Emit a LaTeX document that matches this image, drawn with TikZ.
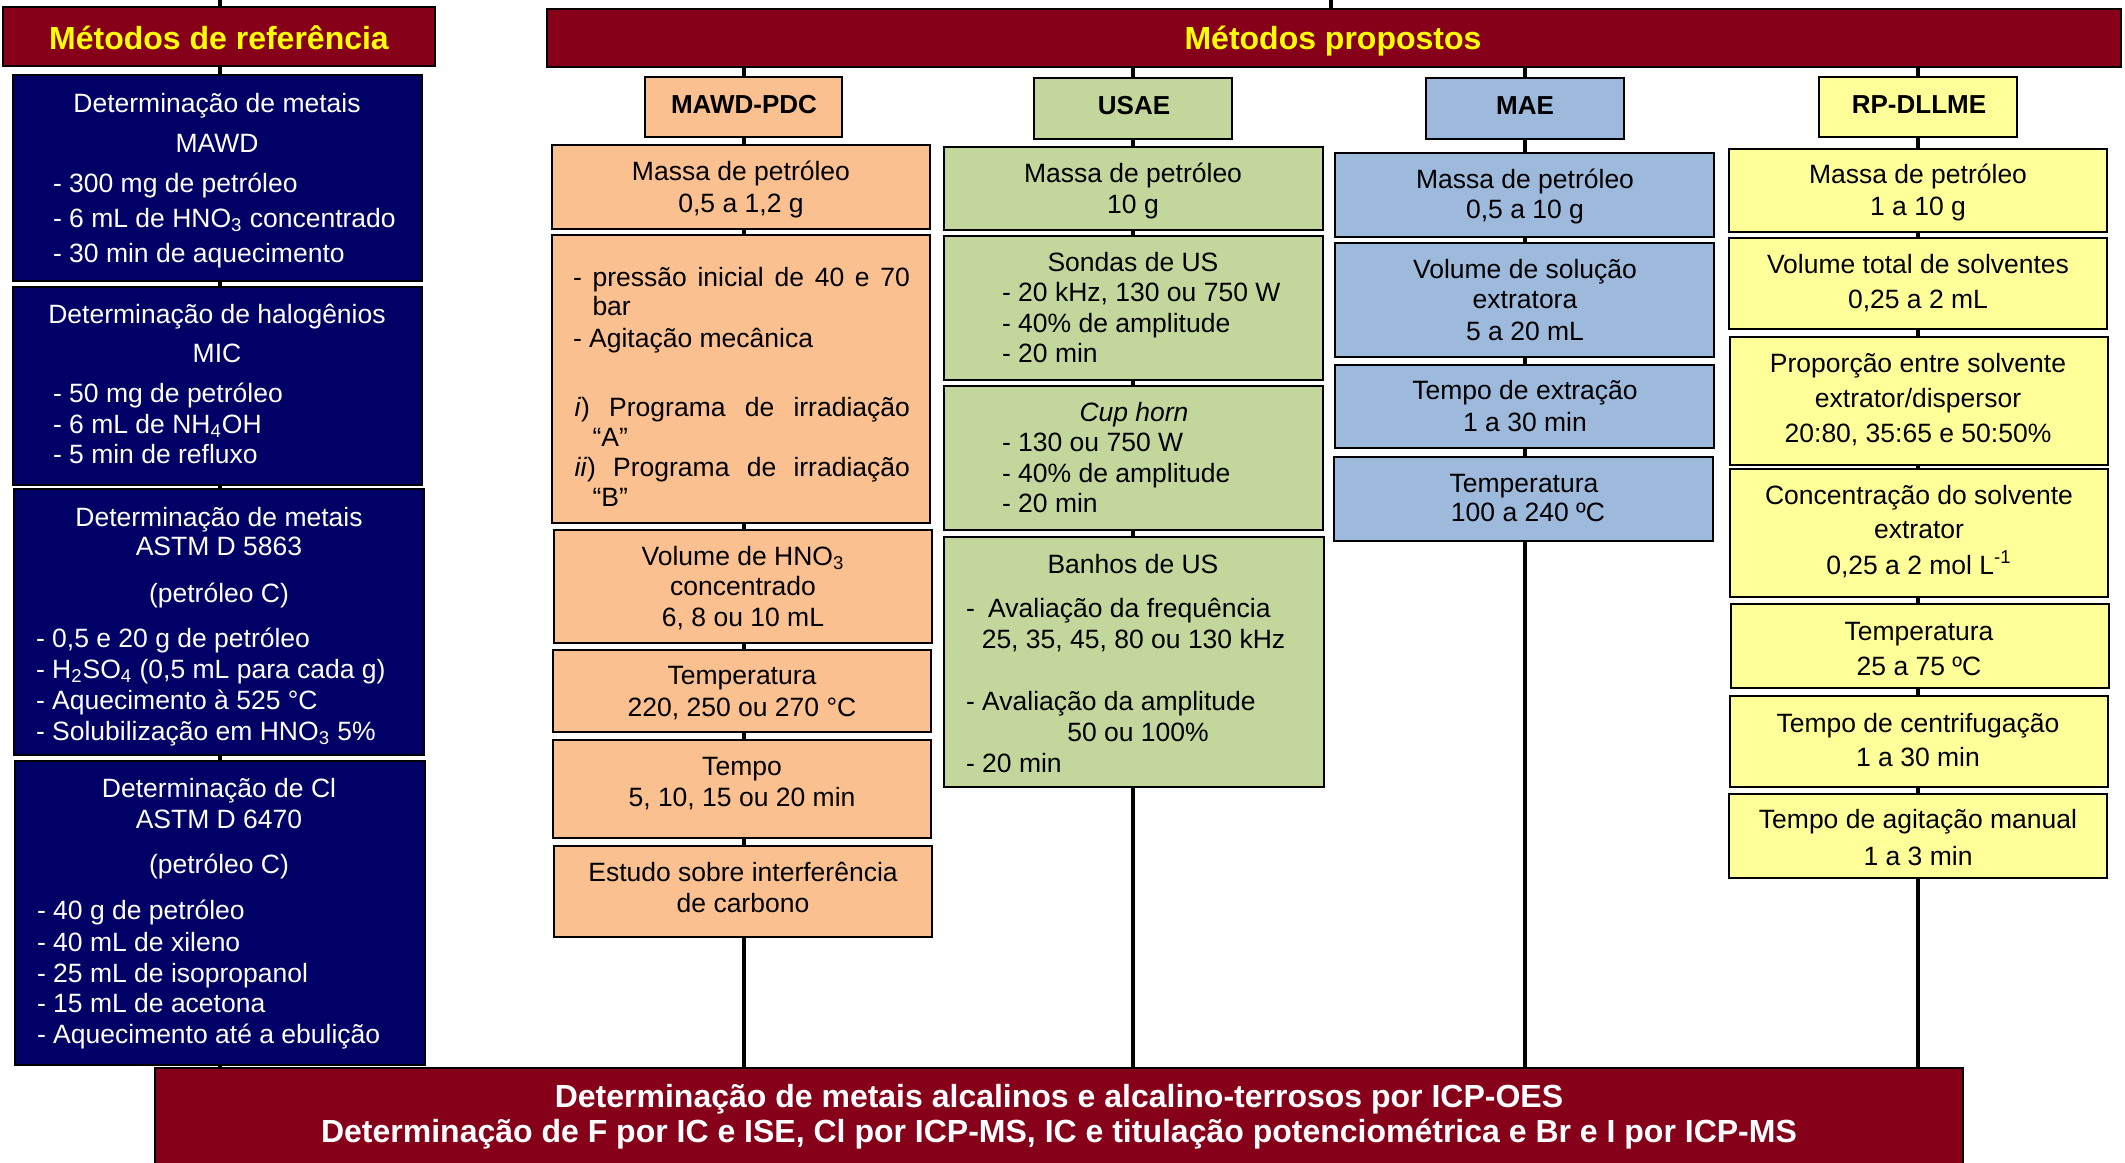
\documentclass[tikz,border=0pt]{standalone}
\usepackage{fontspec}
\setmainfont{Liberation Sans}
\definecolor{hdrred}{RGB}{134,0,26}
\definecolor{hdryellow}{RGB}{255,255,0}
\definecolor{navyc}{RGB}{0,0,102}
\definecolor{orc}{RGB}{250,192,144}
\definecolor{grc}{RGB}{195,214,155}
\definecolor{blc}{RGB}{157,185,220}
\definecolor{ylc}{RGB}{255,255,153}
\pgfdeclarelayer{bg}
\pgfsetlayers{bg,main}
\tikzset{
  boxbase/.style={draw=black, line width=1pt, inner sep=0pt, rectangle},
  redbox/.style={boxbase, fill=hdrred},
  navybox/.style={boxbase, fill=navyc},
  orbox/.style={boxbase, fill=orc},
  grbox/.style={boxbase, fill=grc},
  blbox/.style={boxbase, fill=blc},
  ylbox/.style={boxbase, fill=ylc},
  txt/.style={inner sep=0pt, outer sep=0pt, font=\fontsize{13.25}{15.9}\selectfont},
  wtxt/.style={txt, text=white},
  htxt/.style={inner sep=0pt, outer sep=0pt, font=\fontsize{16}{19}\selectfont\bfseries, text=hdryellow},
  btxt/.style={inner sep=0pt, outer sep=0pt, font=\fontsize{16}{19}\selectfont\bfseries, text=white},
  subtxt/.style={inner sep=0pt, outer sep=0pt, font=\fontsize{13}{15.6}\selectfont\bfseries},
  spine/.style={line width=2pt, draw=black},
}
\newcounter{tc}
\newcommand\Bx[6]{\node[#2, minimum width={(#5-#3)*0.5pt}, minimum height={(#6-#4)*0.5pt}] (#1) at ({(#3+#5)/2},{(#4+#6)/2}) {};}
\newcommand\Tc[4]{\stepcounter{tc}\node[#1, anchor=base] (t\thetc) at (#2,#3) {#4};}
\newcommand\Tl[4]{\stepcounter{tc}\node[#1, anchor=base west] (t\thetc) at (#2,#3) {#4};}
\begin{document}
\begin{tikzpicture}[x=0.5pt,y=-0.5pt]
\useasboundingbox (0,0) rectangle (2125,1162);
% ---------- boxes ----------
\Bx{refh}{redbox}{3}{7}{435}{66}
\Bx{b1}{navybox}{12.5}{75}{422}{281}
\Bx{b2}{navybox}{12.5}{287}{422}{485}
\Bx{b3}{navybox}{14}{489}{424}{755}
\Bx{b4}{navybox}{15}{761}{425}{1065}
\Bx{proph}{redbox}{547}{9}{2121}{67}
\Bx{mawdh}{orbox}{645}{77}{842}{137}
\Bx{usaeh}{grbox}{1034}{78}{1232}{139}
\Bx{maeh}{blbox}{1426}{78}{1624}{139}
\Bx{rph}{ylbox}{1819}{77}{2017}{137}
\Bx{m1}{orbox}{552}{145}{930}{229}
\Bx{m2}{orbox}{552}{235}{930}{523}
\Bx{m3}{orbox}{554}{530}{932}{643}
\Bx{m4}{orbox}{553}{650}{931}{732}
\Bx{m5}{orbox}{553}{740}{931}{838}
\Bx{m6}{orbox}{554}{846}{932}{937}
\Bx{u1}{grbox}{944}{147}{1323}{230}
\Bx{u2}{grbox}{944}{236}{1323}{380}
\Bx{u3}{grbox}{944}{386}{1323}{530}
\Bx{u4}{grbox}{944}{537}{1324}{787}
\Bx{a1}{blbox}{1335}{153}{1714}{237}
\Bx{a2}{blbox}{1335}{243}{1714}{357}
\Bx{a3}{blbox}{1335}{365}{1714}{448}
\Bx{a4}{blbox}{1334}{457}{1713}{541}
\Bx{r1}{ylbox}{1729}{149}{2107}{232}
\Bx{r2}{ylbox}{1729}{238}{2107}{329}
\Bx{r3}{ylbox}{1730}{337}{2108}{465}
\Bx{r4}{ylbox}{1730}{469}{2108}{597}
\Bx{r5}{ylbox}{1731}{604}{2109}{688}
\Bx{r6}{ylbox}{1730}{696}{2108}{787}
\Bx{r7}{ylbox}{1729}{794}{2107}{878}
\Bx{bot}{redbox}{155}{1068}{1963}{1185}
% ---------- connectors ----------
\coordinate (topL) at (220,0);
\coordinate (topP) at (1331,0);
\begin{pgfonlayer}{bg}
\draw[spine] (topL) -- (bot.north -| topL);
\draw[spine] (topP) -- (proph.north -| topP);
\draw[spine] (proph.south -| mawdh) -- (bot.north -| mawdh);
\draw[spine] (proph.south -| usaeh) -- (bot.north -| usaeh);
\draw[spine] (proph.south -| maeh) -- (bot.north -| maeh);
\draw[spine] (proph.south -| rph) -- (bot.north -| rph);
\end{pgfonlayer}
% ---------- headers ----------
\Tc{htxt}{219}{49}{Métodos de referência}
\Tc{htxt}{1333}{49}{Métodos propostos}
\Tc{subtxt}{744}{113}{MAWD-PDC}
\Tc{subtxt}{1134}{114}{USAE}
\Tc{subtxt}{1525}{114}{MAE}
\Tc{subtxt}{1919}{113}{RP-DLLME}
% ---------- reference column ----------
\Tc{wtxt}{217}{112}{Determinação de metais}
\Tc{wtxt}{217}{152}{MAWD}
\Tl{wtxt}{53}{192}{- 300 mg de petróleo}
\Tl{wtxt}{53}{227}{- 6 mL de HNO\textsubscript{3} concentrado}
\Tl{wtxt}{53}{262}{- 30 min de aquecimento}
\Tc{wtxt}{217}{323}{Determinação de halogênios}
\Tc{wtxt}{217}{362}{MIC}
\Tl{wtxt}{53}{402}{- 50 mg de petróleo}
\Tl{wtxt}{53}{433}{- 6 mL de NH\textsubscript{4}OH}
\Tl{wtxt}{53}{463}{- 5 min de refluxo}
\Tc{wtxt}{219}{526}{Determinação de metais}
\Tc{wtxt}{219}{555}{ASTM D 5863}
\Tc{wtxt}{219}{602}{(petróleo C)}
\Tl{wtxt}{36}{647}{- 0,5 e 20 g de petróleo}
\Tl{wtxt}{36}{678}{- H\textsubscript{2}SO\textsubscript{4} (0,5 mL para cada g)}
\Tl{wtxt}{36}{709}{- Aquecimento à 525 °C}
\Tl{wtxt}{36}{740}{- Solubilização em HNO\textsubscript{3} 5\%}
\Tc{wtxt}{219}{797}{Determinação de Cl}
\Tc{wtxt}{219}{828}{ASTM D 6470}
\Tc{wtxt}{219}{873}{(petróleo C)}
\Tl{wtxt}{37}{919}{- 40 g de petróleo}
\Tl{wtxt}{37}{951}{- 40 mL de xileno}
\Tl{wtxt}{37}{982}{- 25 mL de isopropanol}
\Tl{wtxt}{37}{1012}{- 15 mL de acetona}
\Tl{wtxt}{37}{1043}{- Aquecimento até a ebulição}
% ---------- MAWD-PDC ----------
\Tc{txt}{741}{180}{Massa de petróleo}
\Tc{txt}{741}{212}{0,5 a 1,2 g}
\Tl{txt}{573}{286}{\makebox[168.5pt][s]{- pressão inicial de 40 e 70}}
\Tl{txt}{592.5}{315}{bar}
\Tl{txt}{573}{347}{- Agitação mecânica}
\Tl{txt}{574.7}{416}{\makebox[167.6pt][s]{\textit{i}) Programa de irradiação}}
\Tl{txt}{592.5}{446}{“A”}
\Tl{txt}{574.7}{476}{\makebox[167.6pt][s]{\textit{ii}) Programa de irradiação}}
\Tl{txt}{592.5}{506}{“B”}
\Tc{txt}{743}{565}{Volume de HNO\textsubscript{3}}
\Tc{txt}{743}{595}{concentrado}
\Tc{txt}{743}{626}{6, 8 ou 10 mL}
\Tc{txt}{742}{684}{Temperatura}
\Tc{txt}{742}{716}{220, 250 ou 270 °C}
\Tc{txt}{742}{775}{Tempo}
\Tc{txt}{742}{806}{5, 10, 15 ou 20 min}
\Tc{txt}{743}{881}{Estudo sobre interferência}
\Tc{txt}{743}{912}{de carbono}
% ---------- USAE ----------
\Tc{txt}{1133}{182}{Massa de petróleo}
\Tc{txt}{1133}{213}{10 g}
\Tc{txt}{1133}{271}{Sondas de US}
\Tl{txt}{1002}{301}{- 20 kHz, 130 ou 750 W}
\Tl{txt}{1002}{332}{- 40\% de amplitude}
\Tl{txt}{1002}{362}{- 20 min}
\Tc{txt}{1134}{421}{\textit{Cup horn}}
\Tl{txt}{1002}{451}{- 130 ou 750 W}
\Tl{txt}{1002}{482}{- 40\% de amplitude}
\Tl{txt}{1002}{512}{- 20 min}
\Tc{txt}{1133}{573}{Banhos de US}
\Tl{txt}{966}{617}{-\hspace{3pt} Avaliação da frequência}
\Tc{txt}{1133.5}{648}{25, 35, 45, 80 ou 130 kHz}
\Tl{txt}{966}{710}{- Avaliação da amplitude}
\Tc{txt}{1138}{741}{50 ou 100\%}
\Tl{txt}{966}{772}{- 20 min}
% ---------- MAE ----------
\Tc{txt}{1525}{188}{Massa de petróleo}
\Tc{txt}{1525}{218}{0,5 a 10 g}
\Tc{txt}{1525}{278}{Volume de solução}
\Tc{txt}{1525}{308}{extratora}
\Tc{txt}{1525}{340}{5 a 20 mL}
\Tc{txt}{1525}{399}{Tempo de extração}
\Tc{txt}{1525}{431}{1 a 30 min}
\Tc{txt}{1524}{492}{Temperatura}
\Tc{txt}{1528}{521}{100 a 240 ºC}
% ---------- RP-DLLME ----------
\Tc{txt}{1918}{183}{Massa de petróleo}
\Tc{txt}{1918}{215}{1 a 10 g}
\Tc{txt}{1918}{273}{Volume total de solventes}
\Tc{txt}{1918}{308}{0,25 a 2 mL}
\Tc{txt}{1918}{372}{Proporção entre solvente}
\Tc{txt}{1918}{407}{extrator/dispersor}
\Tc{txt}{1918}{442}{20:80, 35:65 e 50:50\%}
\Tc{txt}{1919}{504}{Concentração do solvente}
\Tc{txt}{1919}{538}{extrator}
\Tc{txt}{1919}{574}{0,25 a 2 mol L\textsuperscript{-1}}
\Tc{txt}{1919}{640}{Temperatura}
\Tc{txt}{1919}{675}{25 a 75 ºC}
\Tc{txt}{1918}{732}{Tempo de centrifugação}
\Tc{txt}{1918}{766}{1 a 30 min}
\Tc{txt}{1918}{828}{Tempo de agitação manual}
\Tc{txt}{1918}{865}{1 a 3 min}
% ---------- bottom ----------
\Tc{btxt}{1059}{1107}{Determinação de metais alcalinos e alcalino-terrosos por ICP-OES}
\Tc{btxt}{1059}{1142}{Determinação de F por IC e ISE, Cl por ICP-MS, IC e titulação potenciométrica e Br e I por ICP-MS}
\end{tikzpicture}
\end{document}
